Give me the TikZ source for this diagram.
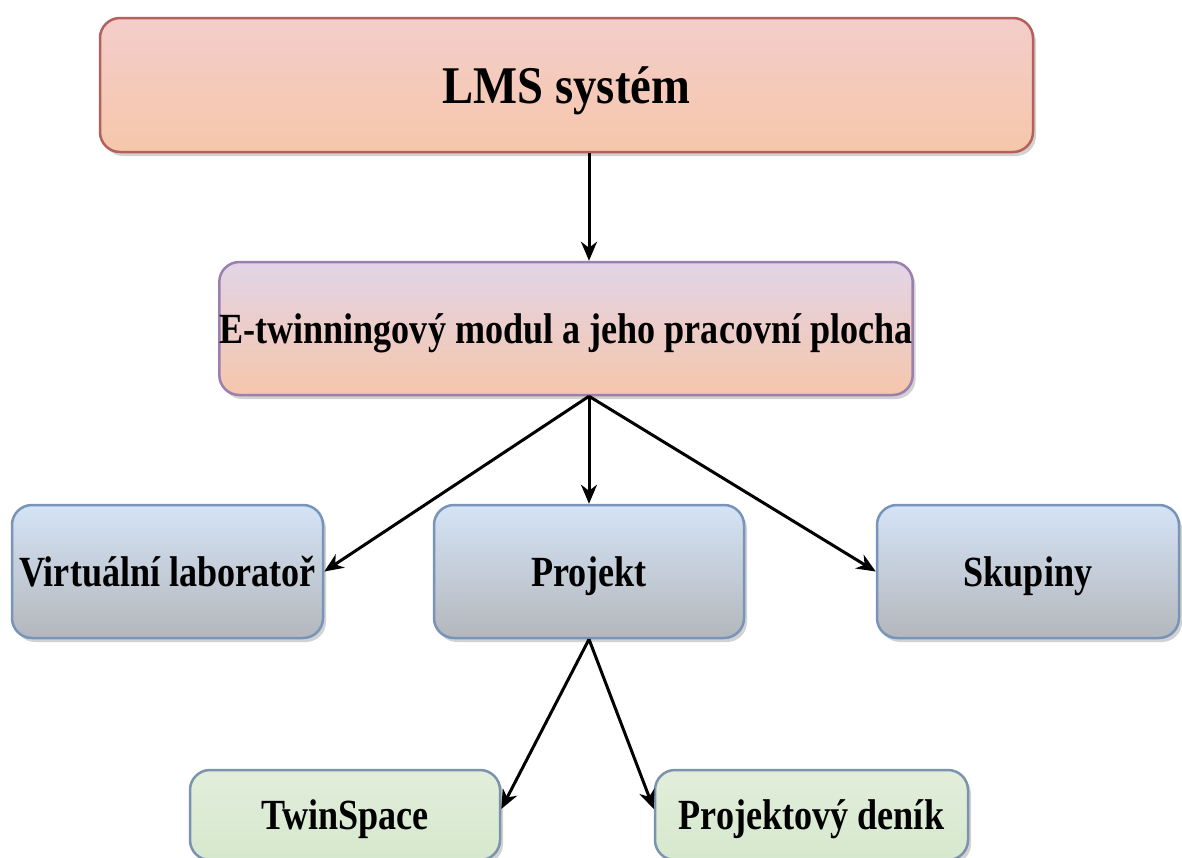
\documentclass[tikz,border=0pt]{standalone}
\usepackage{fontspec}
\setmainfont{Liberation Serif}[FakeStretch=0.84]
\newfontfamily\lmsfont{Liberation Serif}[FakeStretch=0.88]
\usetikzlibrary{arrows.meta,shadows,calc}
\definecolor{lmsT}{HTML}{F4CDCB}
\definecolor{lmsB}{HTML}{F5C7AA}
\definecolor{lmsD}{HTML}{B5605A}
\definecolor{etT}{HTML}{E2D4E8}
\definecolor{etB}{HTML}{F6C6AA}
\definecolor{etD}{HTML}{9B7FAE}
\definecolor{blT}{HTML}{D4E3F6}
\definecolor{blB}{HTML}{B4B7BC}
\definecolor{blD}{HTML}{7894B8}
\definecolor{grT}{HTML}{E2EEDB}
\definecolor{grB}{HTML}{D6E8CE}
\definecolor{grD}{HTML}{7C93AE}
\tikzset{
  box/.style={rounded corners=20pt, line width=2.5pt, inner sep=0pt, align=center,
    text depth=0pt,
    font=\bfseries\fontsize{43}{50}\selectfont,
    drop shadow={shadow xshift=3pt, shadow yshift=-4pt, opacity=0.35}},
  lmsbox/.style={box, draw=lmsD, top color=lmsT, bottom color=lmsB, font=\lmsfont\bfseries\fontsize{53}{60}\selectfont},
  etbox/.style={box, draw=etD, top color=etT, bottom color=etB},
  blbox/.style={box, draw=blD, top color=blT, bottom color=blB},
  grbox/.style={box, draw=grD, top color=grT, bottom color=grB},
  arr/.style={line width=3pt, -{Stealth[length=19pt,width=16pt,inset=6pt]}}
}
\begin{document}
\begin{tikzpicture}[x=1pt,y=-1pt]
\useasboundingbox (0,0) rectangle (1182,857);
\clip (0,0) rectangle (1182,857);
\fill[white] (0,0) rectangle (1182,857);
\node[lmsbox, minimum width=933pt, minimum height=134pt] (lms) at (566.5,85) {LMS systém};
\node[etbox, minimum width=692pt, minimum height=133pt] (etw) at (566,328.5) {E-twinningový modul a jeho pracovní plocha};
\node[blbox, minimum width=311pt, minimum height=133pt] (vl) at (167.5,571.5) {Virtuální laboratoř};
\node[blbox, minimum width=310pt, minimum height=133pt] (proj) at (589,571.5) {Projekt};
\node[blbox, minimum width=302pt, minimum height=133pt] (skup) at (1028,571.5) {Skupiny};
\node[grbox, minimum width=310pt, minimum height=90pt] (twin) at (345,815) {TwinSpace};
\node[grbox, minimum width=313pt, minimum height=90pt] (den) at (811.5,815) {Projektový deník};
\draw[arr] (lms.south -| proj.north) -- (etw.north -| proj.north);
\coordinate (eb) at (etw.south -| proj.north);
\draw[arr] (eb) -- (vl.east);
\draw[arr] (eb) -- (proj.north);
\draw[arr] (eb) -- (skup.west);
\draw[arr] (proj.south) -- ($(twin.east)+(0,-6)$);
\draw[arr] (proj.south) -- ($(den.west)+(0,-6)$);
\end{tikzpicture}
\end{document}
